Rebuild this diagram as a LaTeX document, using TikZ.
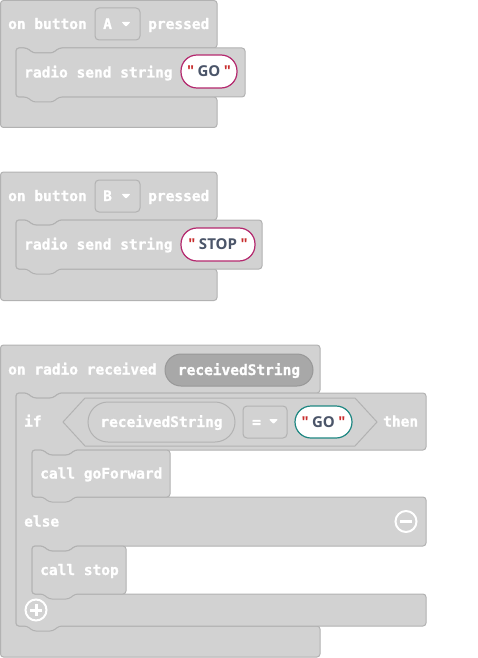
\documentclass[tikz,border=0pt]{standalone}
\usepackage{fontspec}
\usetikzlibrary{calc}
\newfontfamily\blockfont{DejaVu Sans Mono Bold}[FakeBold=1.2]
\newfontfamily\strfont{Open Sans Bold}
\definecolor{blockgray}{RGB}{210,210,210}
\definecolor{blockedge}{RGB}{178,178,178}
\definecolor{vardark}{RGB}{168,168,168}
\definecolor{vardarkedge}{RGB}{152,152,152}
\definecolor{radiostr}{RGB}{180,40,110}
\definecolor{logicstr}{RGB}{30,135,130}
\definecolor{quotered}{RGB}{200,45,45}
\definecolor{strtext}{RGB}{75,85,105}
% statement block with a notch on top and a tab below
\def\stackblock[#1](#2,#3)(#4,#5){\draw[#1] (#2,#3) -- (#2+11,#3) -- (#2+17,#3+5) -- (#2+37,#3+5) -- (#2+43,#3) -- (#4,#3) -- (#4,#5) -- (#2+43,#5) -- (#2+37,#5+5) -- (#2+17,#5+5) -- (#2+11,#5) -- (#2,#5) -- cycle;}
\def\droptri(#1,#2){\fill[white, rounded corners=0.8pt] (#1-4.5,#2-2.3) -- (#1+4.5,#2-2.3) -- (#1,#2+2.5) -- cycle;}
\def\qstr#1{{\color{quotered}"}\hspace{3.5pt}#1\hspace{3.5pt}{\color{quotered}"}}

\begin{document}
\begin{tikzpicture}[x=1pt, y=-1pt,
	blk/.style={fill=blockgray, draw=blockedge, line width=1pt, rounded corners=3pt},
	lbl/.style={text=white, font=\blockfont\fontsize{14.5}{14.5}\selectfont, inner sep=0pt, text height=10.5pt, text depth=0.5pt, anchor=west},
	dropbox/.style={fill=blockgray, draw=blockedge, line width=1pt, rounded corners=4pt, minimum height=32pt, inner sep=0pt},
	strpill/.style={fill=white, line width=1.2pt, rounded corners=16pt, minimum height=33pt, inner sep=0pt, text=strtext, font=\strfont\fontsize{15}{15}\selectfont},
	varpill/.style={line width=1pt, inner sep=0pt, text=white, font=\blockfont\fontsize{14.5}{14.5}\selectfont, text height=10.5pt, text depth=0.5pt}]
			%%%%% START %%%%%
			\useasboundingbox (0,0) rectangle (478,658);
			
			% on button A pressed
			\draw[blk] (0.5,0.5) -- (217,0.5) -- (217,48) -- (59,48) -- (53,53) -- (33,53) -- (27,48) -- (16,48) -- (16,97) -- (217,97) -- (217,127.5) -- (0.5,127.5) -- cycle;
			\node[lbl] (onA) at (8,24) {on button};
			\node[dropbox, minimum width=45pt] (dropA) at (117.5,24) {};
			\node[lbl] (keyA) at (103,24) {A};
			\droptri(126,24.2)
			\node[lbl] (pressA) at (148,24) {pressed};
			\stackblock[blk](16,48)(245,97)
			\node[lbl] (sendA) at (24,72.5) {radio send string};
			\node[strpill, draw=radiostr, minimum width=56pt] (strA) at (209,71.5) {\qstr{GO}};
			
			% on button B pressed
			\draw[blk] (0.5,172) -- (217,172) -- (217,220) -- (59,220) -- (53,225) -- (33,225) -- (27,220) -- (16,220) -- (16,269) -- (217,269) -- (217,300.5) -- (0.5,300.5) -- cycle;
			\node[lbl] (onB) at (8,196) {on button};
			\node[dropbox, minimum width=45pt] (dropB) at (117.5,196) {};
			\node[lbl] (keyB) at (103,196) {B};
			\droptri(126,196.2)
			\node[lbl] (pressB) at (148,196) {pressed};
			\stackblock[blk](16,220)(262,269)
			\node[lbl] (sendB) at (24,244.5) {radio send string};
			\node[strpill, draw=radiostr, minimum width=74pt] (strB) at (218,244.5) {\qstr{STOP}};
			
			% on radio received
			\draw[blk] (0.5,345) -- (320,345) -- (320,393) -- (59,393) -- (53,398) -- (33,398) -- (27,393) -- (16,393) -- (16,626) -- (320,626) -- (320,657) -- (0.5,657) -- cycle;
			\node[lbl] (onRadio) at (8,369.5) {on radio received};
			\node[varpill, fill=vardark, draw=vardarkedge, rounded corners=16pt, minimum width=148pt, minimum height=32pt] (recvArg) at (239,370) {receivedString};
			
			% if / else
			\draw[blk] (16,393) -- (27,393) -- (33,398) -- (53,398) -- (59,393) -- (426,393) -- (426,450) -- (75,450) -- (69,455) -- (49,455) -- (43,450) -- (32,450) -- (32,497) -- (426,497) -- (426,546) -- (75,546) -- (69,551) -- (49,551) -- (43,546) -- (32,546) -- (32,594) -- (426,594) -- (426,626) -- (59,626) -- (53,631) -- (33,631) -- (27,626) -- (16,626) -- cycle;
			\node[lbl] (ifLbl) at (24,421.5) {if};
			\draw[fill=blockgray, draw=blockedge, line width=1pt] (63,422) -- (85,398) -- (355,398) -- (377,422) -- (355,446) -- (85,446) -- cycle;
			\node[varpill, fill=blockgray, draw=blockedge, rounded corners=20pt, minimum width=147pt, minimum height=40pt] (recvVar) at (161.5,422) {receivedString};
			\node[dropbox, minimum width=44pt] (dropEq) at (265,422) {};
			\node[lbl] (eqLbl) at (252,422) {=};
			\droptri(273.5,421.5)
			\node[strpill, draw=logicstr, minimum width=57pt, minimum height=32pt] (strGo) at (323.5,422) {\qstr{GO}};
			\node[lbl] (thenLbl) at (383,421.5) {then};
			
			\stackblock[blk](32,450)(170,497)
			\node[lbl] (callFwd) at (40,473.5) {call goForward};
			
			\node[lbl] (elseLbl) at (24,521.5) {else};
			\draw[white, line width=2pt] (406,521.5) circle (10.5);
			\draw[white, line width=3pt] (400,521.5) -- (412,521.5);
			
			\stackblock[blk](32,546)(126,594)
			\node[lbl] (callStop) at (40,570) {call stop};
			
			\draw[white, line width=2pt] (36,610) circle (10.5);
			\draw[white, line width=3pt] (30,610) -- (42,610);
			\draw[white, line width=3pt] (36,604) -- (36,616);
			
			%%%%% END %%%%%
		\end{tikzpicture}
\end{document}
